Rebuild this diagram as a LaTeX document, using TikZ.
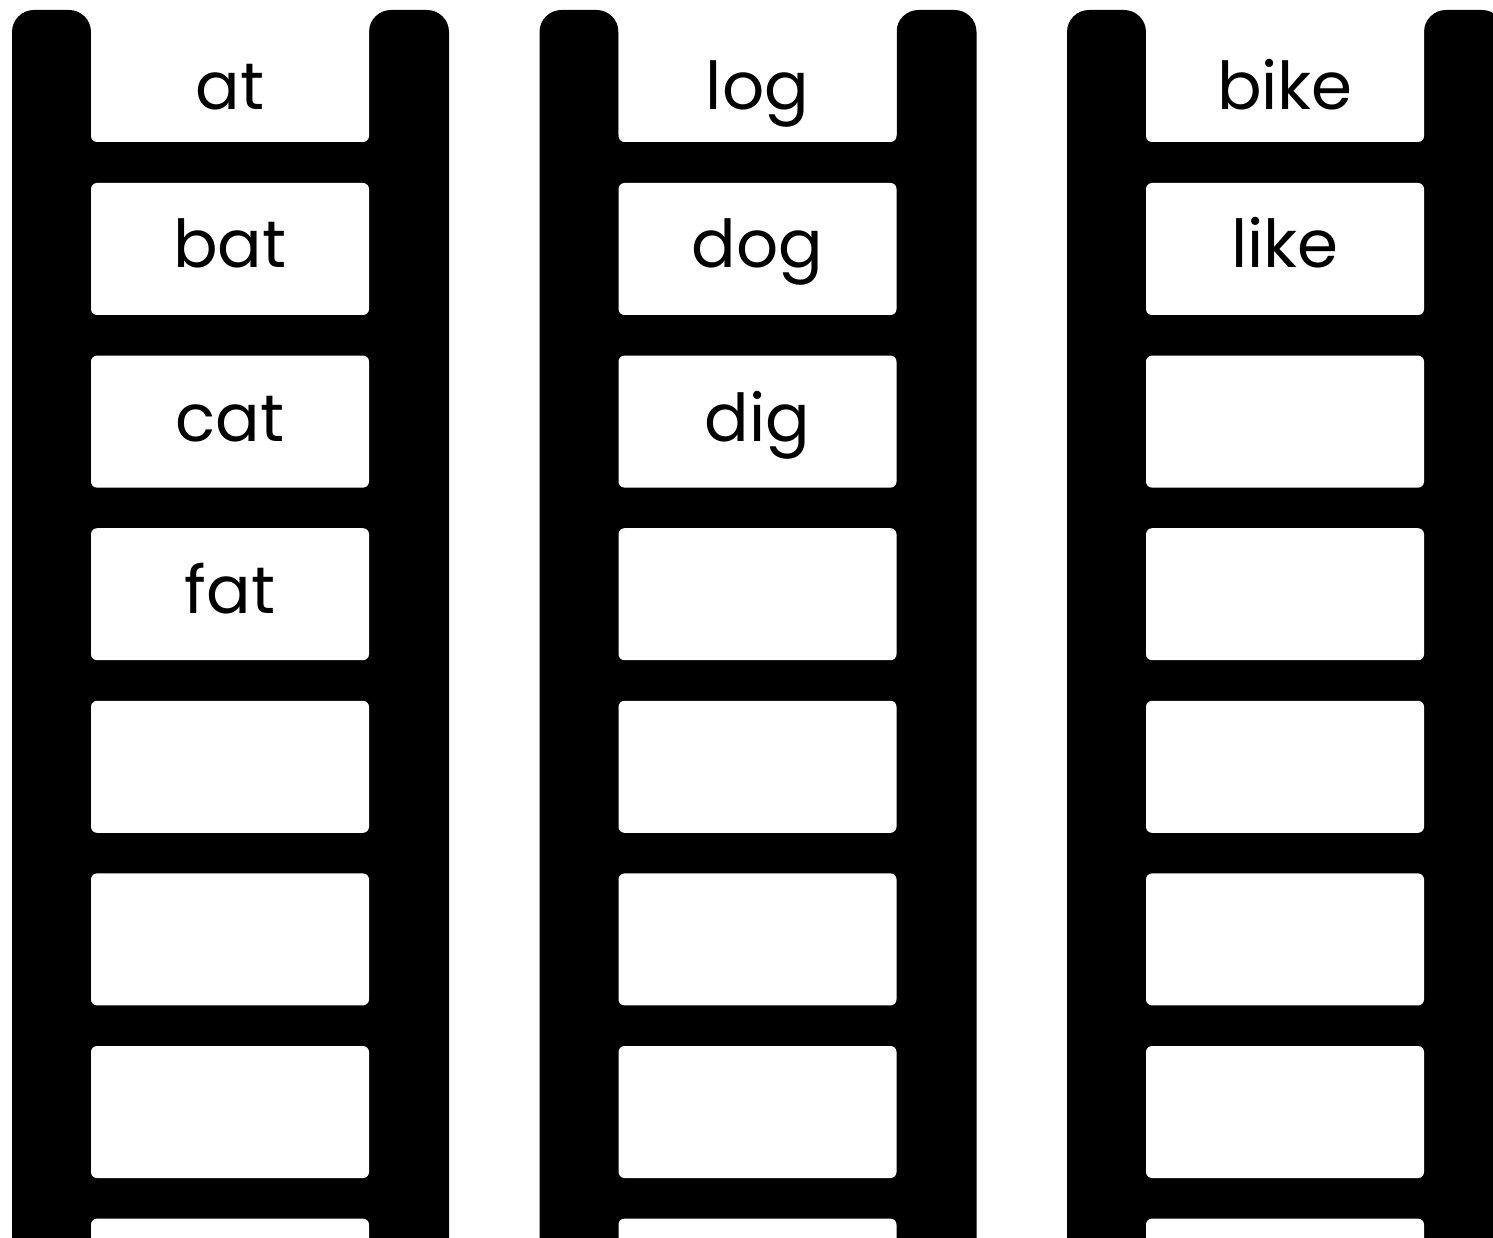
\documentclass[tikz,border=0pt]{standalone}
\usepackage{fontspec}
\setmainfont{Poppins}
\begin{document}
\begin{tikzpicture}[x=1pt,y=-1pt,
  rail/.style={fill=black, rounded corners=22pt},
  rung/.style={fill=white, rounded corners=6pt, minimum width=278pt, minimum height=132pt, inner sep=0pt, outer sep=0pt},
  word/.style={font=\fontsize{66}{78}\selectfont, anchor=base, inner sep=0pt}]
\useasboundingbox (0,0) rectangle (1493,1238);
\clip (0,0) rectangle (1493,1238);
\fill[white] (0,0) rectangle (1493,1238);
\foreach \i in {0,1,2} {
  \begin{scope}[xshift=527.5*\i]
    \fill[rail] (12,10) rectangle (91,1300);
    \fill[rail] (369,10) rectangle (449,1300);
    \fill (90,135) rectangle (370,1300);
    \fill[white, rounded corners=6pt] (91,-20) rectangle (369,142);
    \foreach \j in {1,...,7} \node[rung] (r\i\j) at (230, 249+172.6*\j-172.6) {};
  \end{scope}
}
\node[word] (w00) at (230,110) {at};
\node[word] (w01) at (230,268) {bat};
\node[word] (w02) at (230,441) {cat};
\node[word] (w03) at (230,613) {fat};
\node[word] (w10) at (757.5,110) {log};
\node[word] (w11) at (757.5,268) {dog};
\node[word] (w12) at (757.5,441) {dig};
\node[word] (w20) at (1285,110) {bike};
\node[word] (w21) at (1285,268) {like};
\end{tikzpicture}
\end{document}
